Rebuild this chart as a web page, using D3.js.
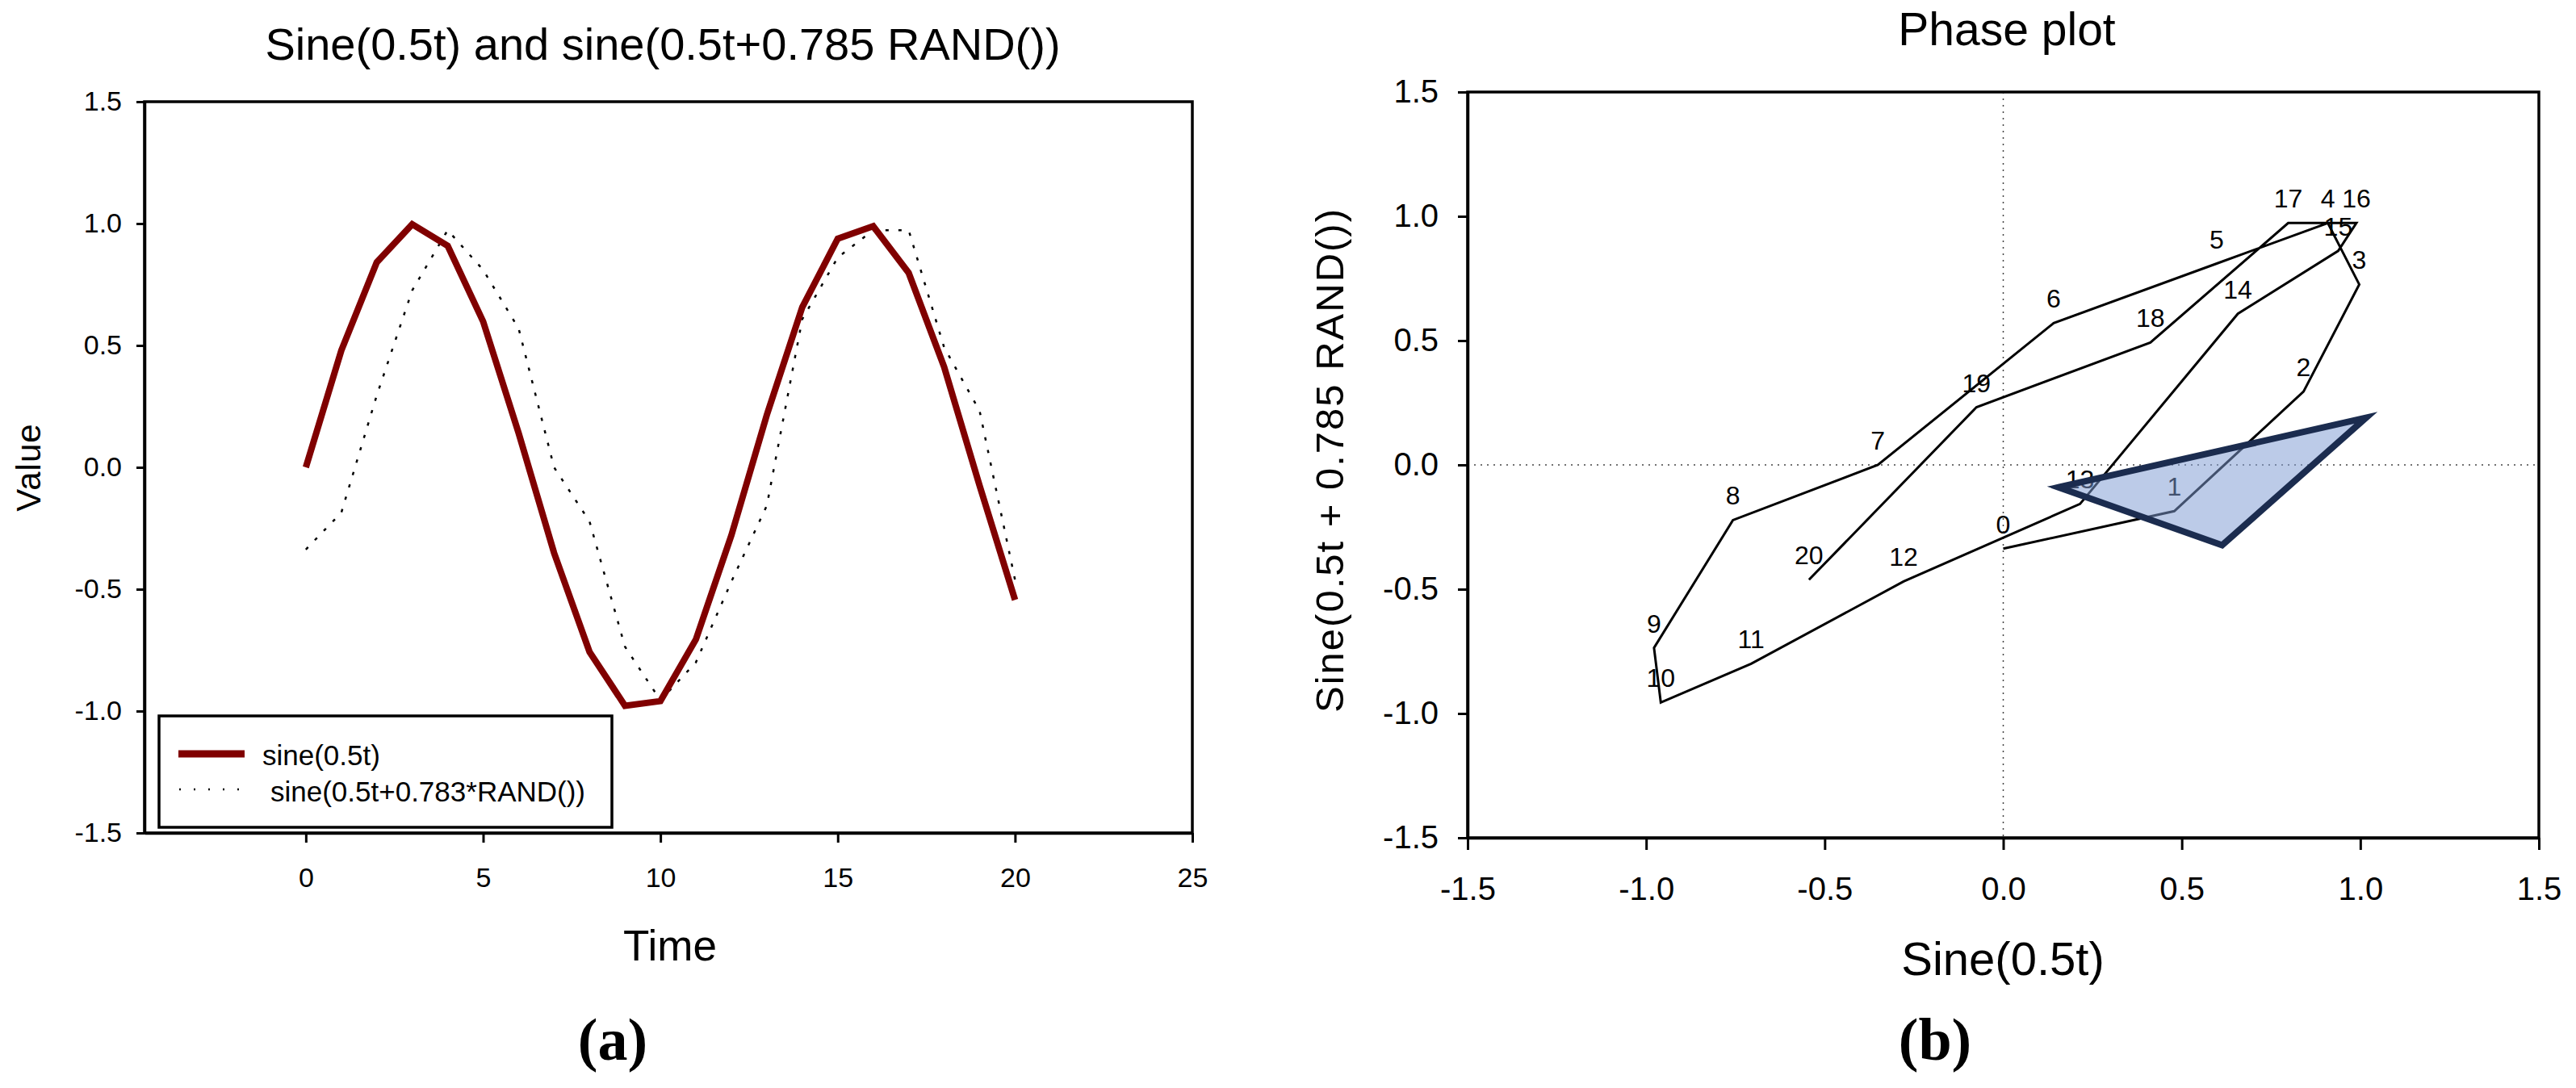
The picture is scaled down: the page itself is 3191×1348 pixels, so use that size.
<!DOCTYPE html>
<html>
<head>
<meta charset="utf-8">
<script src="https://cdn.jsdelivr.net/npm/d3@7"></script>
<style>
  body { margin: 0; background: #fff; }
  svg { display: block; font-family: "Liberation Sans", Arial, sans-serif; }
</style>
</head>
<body>
<svg id="chart" width="3191" height="1348"></svg>
<script>
// time steps 0..20
const times = [0, 1, 2, 3, 4, 5, 6, 7, 8, 9, 10, 11, 12, 13, 14, 15, 16, 17, 18, 19, 20];
// sine(0.5t)
const sineVals = [0, 0.479, 0.841, 0.997, 0.909, 0.598, 0.141, -0.351, -0.757, -0.978, -0.959,
  -0.706, -0.279, 0.215, 0.657, 0.938, 0.989, 0.798, 0.412, -0.075, -0.544];
// sine(0.5t + 0.783*RAND())
const randVals = [-0.337, -0.186, 0.295, 0.726, 0.973, 0.81, 0.57, 0.0, -0.222, -0.736, -0.956,
  -0.80, -0.469, -0.157, 0.608, 0.861, 0.973, 0.973, 0.492, 0.232, -0.462];
// highlighted triangle in the phase plot
const triangle = [[0.155, -0.09], [1.016, 0.19], [0.613, -0.323]];

const leftXTicks = [0, 5, 10, 15, 20, 25];
const valueTicks = [-1.5, -1.0, -0.5, 0.0, 0.5, 1.0, 1.5];

const svg = d3.select("#chart");
// plain hyphen minus like the original, not the unicode minus d3.format gives
const fmt = (d) => d.toFixed(1);

// ---------- (a) time series ----------
const xL = d3.scaleLinear().domain([-4.55, 25]).range([179, 1477]);
const yL = d3.scaleLinear().domain([-1.5, 1.5]).range([1032, 126]);

const gA = svg.append("g");

gA.append("text")
  .attr("x", 821).attr("y", 74)
  .attr("text-anchor", "middle")
  .attr("font-size", 56)
  .text("Sine(0.5t) and sine(0.5t+0.785 RAND())");

const line = d3.line()
  .x((d) => xL(d[0]))
  .y((d) => yL(d[1]));

gA.append("path")
  .datum(times.map((t, i) => [t, randVals[i]]))
  .attr("d", line)
  .attr("fill", "none")
  .attr("stroke", "#000")
  .attr("stroke-width", 2.5)
  .attr("stroke-dasharray", "4,12");

gA.append("path")
  .datum(times.map((t, i) => [t, sineVals[i]]))
  .attr("d", line)
  .attr("fill", "none")
  .attr("stroke", "#800000")
  .attr("stroke-width", 8)
  .attr("stroke-linejoin", "miter");

gA.append("rect")
  .attr("x", xL.range()[0]).attr("y", yL.range()[1])
  .attr("width", xL.range()[1] - xL.range()[0])
  .attr("height", yL.range()[0] - yL.range()[1])
  .attr("fill", "none").attr("stroke", "#000").attr("stroke-width", 3.5);

gA.append("g")
  .attr("transform", `translate(0,${yL.range()[0]})`)
  .call(d3.axisBottom(xL).tickValues(leftXTicks).tickSize(12).tickPadding(31).tickSizeOuter(0))
  .call((g) => g.select(".domain").attr("stroke-width", 3.5))
  .call((g) => g.selectAll(".tick line").attr("stroke-width", 3))
  .call((g) => g.selectAll("text").attr("font-size", 34).attr("font-family", null).attr("fill", "#000"));

gA.append("g")
  .attr("transform", `translate(${xL.range()[0]},0)`)
  .call(d3.axisLeft(yL).tickValues(valueTicks).tickFormat(fmt).tickSize(10).tickPadding(18).tickSizeOuter(0))
  .call((g) => g.select(".domain").attr("stroke-width", 3.5))
  .call((g) => g.selectAll(".tick line").attr("stroke-width", 3))
  .call((g) => g.selectAll("text").attr("font-size", 34).attr("font-family", null).attr("fill", "#000"));

gA.append("text")
  .attr("x", 830).attr("y", 1190)
  .attr("text-anchor", "middle")
  .attr("font-size", 53)
  .text("Time");

gA.append("text")
  .attr("transform", "translate(50,579) rotate(-90)")
  .attr("text-anchor", "middle")
  .attr("font-size", 42)
  .attr("letter-spacing", 1)
  .text("Value");

// legend
const leg = gA.append("g");
leg.append("rect")
  .attr("x", 197).attr("y", 887).attr("width", 561).attr("height", 138)
  .attr("fill", "#fff").attr("stroke", "#000").attr("stroke-width", 3.5);
leg.append("line")
  .attr("x1", 221).attr("x2", 303).attr("y1", 934).attr("y2", 934)
  .attr("stroke", "#800000").attr("stroke-width", 9);
leg.append("text")
  .attr("x", 325).attr("y", 948).attr("font-size", 35)
  .text("sine(0.5t)");
leg.append("line")
  .attr("x1", 222).attr("x2", 306).attr("y1", 978).attr("y2", 978)
  .attr("stroke", "#000").attr("stroke-width", 2.5).attr("stroke-dasharray", "2,16");
leg.append("text")
  .attr("x", 335).attr("y", 993).attr("font-size", 35)
  .text("sine(0.5t+0.783*RAND())");

gA.append("text")
  .attr("x", 759).attr("y", 1313)
  .attr("text-anchor", "middle")
  .attr("font-family", "'Liberation Serif', 'Times New Roman', serif")
  .attr("font-weight", "bold")
  .attr("font-size", 74)
  .text("(a)");

// ---------- (b) phase plot ----------
const xR = d3.scaleLinear().domain([-1.5, 1.5]).range([1818, 3145]);
const yR = d3.scaleLinear().domain([-1.5, 1.5]).range([1038, 114]);

const gB = svg.append("g");

gB.append("text")
  .attr("x", 2486).attr("y", 56)
  .attr("text-anchor", "middle")
  .attr("font-size", 57)
  .text("Phase plot");

// zero reference lines
gB.append("line")
  .attr("x1", xR(0)).attr("x2", xR(0)).attr("y1", yR.range()[1]).attr("y2", yR.range()[0])
  .attr("stroke", "#444").attr("stroke-width", 1.5).attr("stroke-dasharray", "2,6");
gB.append("line")
  .attr("x1", xR.range()[0]).attr("x2", xR.range()[1]).attr("y1", yR(0)).attr("y2", yR(0))
  .attr("stroke", "#444").attr("stroke-width", 1.5).attr("stroke-dasharray", "2,6");

const phase = times.map((t, i) => ({ t, x: sineVals[i], y: randVals[i] }));

gB.append("path")
  .datum(phase)
  .attr("d", d3.line().x((d) => xR(d.x)).y((d) => yR(d.y)))
  .attr("fill", "none")
  .attr("stroke", "#000")
  .attr("stroke-width", 3);

gB.selectAll(".plabel")
  .data(phase)
  .join("text")
  .attr("class", "plabel")
  .attr("x", (d) => xR(d.x))
  .attr("y", (d) => yR(d.y) - 19)
  .attr("text-anchor", "middle")
  .attr("font-size", 32)
  .text((d) => d.t);

gB.append("path")
  .datum(triangle)
  .attr("d", d3.line().x((d) => xR(d[0])).y((d) => yR(d[1])).curve(d3.curveLinearClosed))
  .attr("fill", "#7f9bd3")
  .attr("fill-opacity", 0.52)
  .attr("stroke", "#1b2c4f")
  .attr("stroke-width", 8)
  .attr("stroke-linejoin", "miter")
  .attr("stroke-miterlimit", 10);

gB.append("rect")
  .attr("x", xR.range()[0]).attr("y", yR.range()[1])
  .attr("width", xR.range()[1] - xR.range()[0])
  .attr("height", yR.range()[0] - yR.range()[1])
  .attr("fill", "none").attr("stroke", "#000").attr("stroke-width", 3.5);

gB.append("g")
  .attr("transform", `translate(0,${yR.range()[0]})`)
  .call(d3.axisBottom(xR).tickValues(valueTicks).tickFormat(fmt).tickSize(15).tickPadding(34).tickSizeOuter(0))
  .call((g) => g.select(".domain").attr("stroke-width", 3.5))
  .call((g) => g.selectAll(".tick line").attr("stroke-width", 3))
  .call((g) => g.selectAll("text").attr("font-size", 40).attr("font-family", null).attr("fill", "#000"));

gB.append("g")
  .attr("transform", `translate(${xR.range()[0]},0)`)
  .call(d3.axisLeft(yR).tickValues(valueTicks).tickFormat(fmt).tickSize(12).tickPadding(24).tickSizeOuter(0))
  .call((g) => g.select(".domain").attr("stroke-width", 3.5))
  .call((g) => g.selectAll(".tick line").attr("stroke-width", 3))
  .call((g) => g.selectAll("text").attr("font-size", 40).attr("font-family", null).attr("fill", "#000"));

gB.append("text")
  .attr("x", 2481).attr("y", 1208)
  .attr("text-anchor", "middle")
  .attr("font-size", 58)
  .text("Sine(0.5t)");

gB.append("text")
  .attr("transform", "translate(1664,570) rotate(-90)")
  .attr("text-anchor", "middle")
  .attr("font-size", 49)
  .attr("letter-spacing", 2)
  .text("Sine(0.5t + 0.785 RAND())");

gB.append("text")
  .attr("x", 2397).attr("y", 1313)
  .attr("text-anchor", "middle")
  .attr("font-family", "'Liberation Serif', 'Times New Roman', serif")
  .attr("font-weight", "bold")
  .attr("font-size", 74)
  .text("(b)");
</script>
</body>
</html>
